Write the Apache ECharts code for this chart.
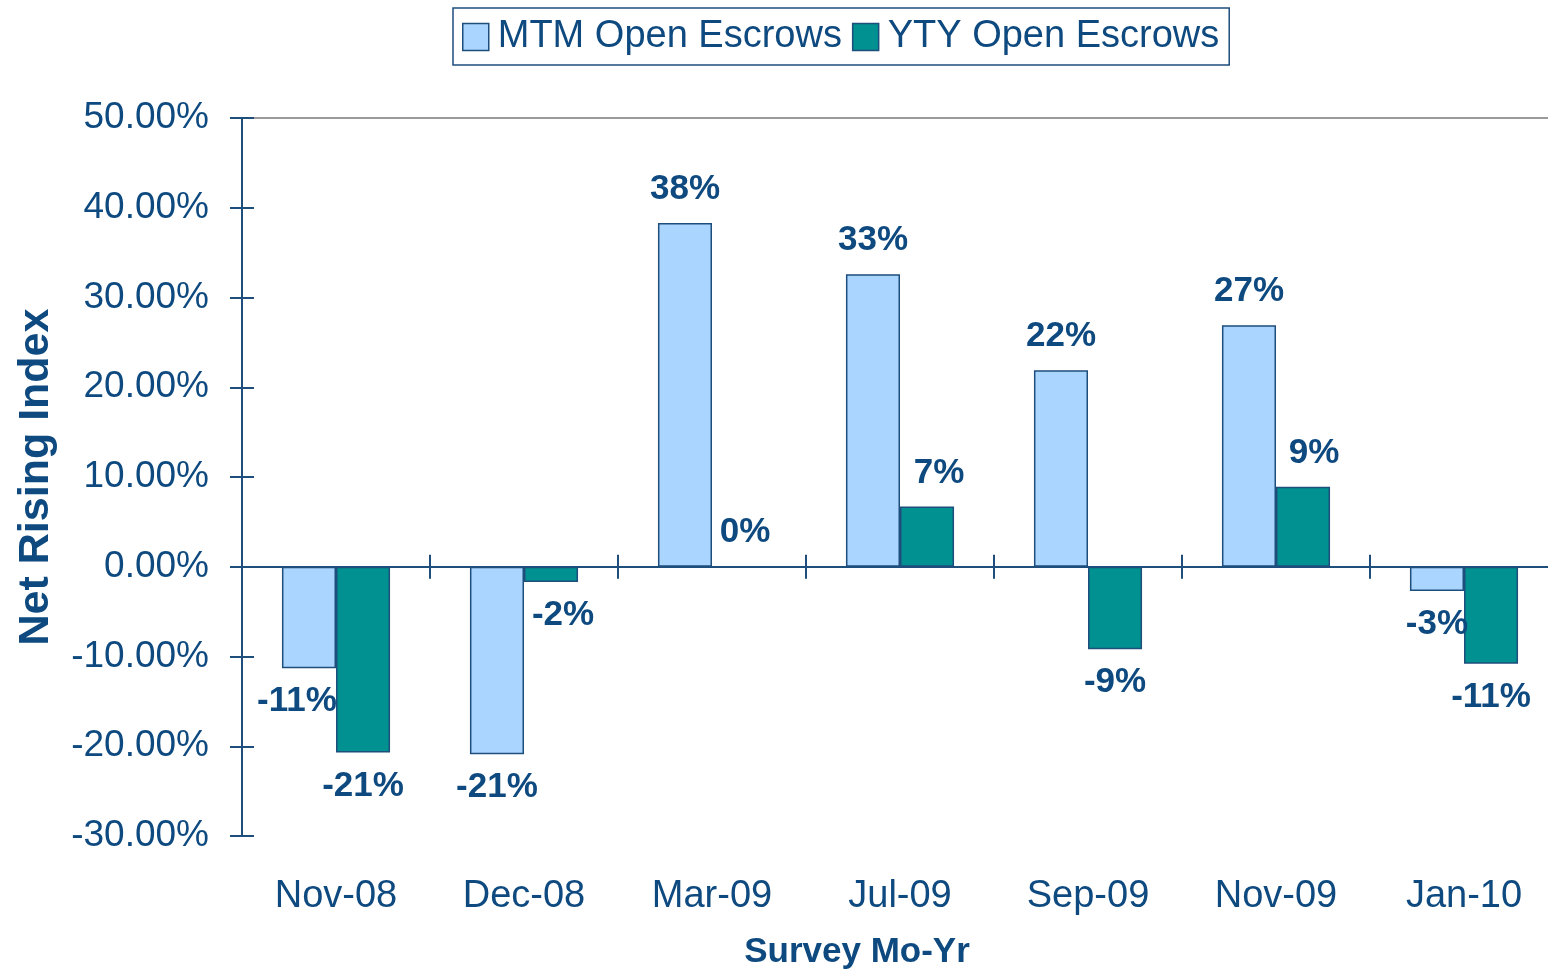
<!DOCTYPE html>
<html>
<head>
<meta charset="utf-8">
<script src="https://cdn.jsdelivr.net/npm/echarts@6/dist/echarts.min.js"></script>
<style>
html,body{margin:0;padding:0;background:#fff;overflow:hidden;width:1548px;height:975px;}
#chart{width:1558px;height:975px;}
</style>
</head>
<body>
<div id="chart"></div>
<script>
const categories = ['Nov-08', 'Dec-08', 'Mar-09', 'Jul-09', 'Sep-09', 'Nov-09', 'Jan-10'];
const mtmValues = [-11.3, -20.9, 38.3, 32.6, 21.9, 26.9, -2.7];
const ytyValues = [-20.7, -1.7, 0, 6.7, -9.2, 8.9, -10.8];
const yTicks = { min: -30, max: 50, interval: 10 };
const seriesNames = ['MTM Open Escrows', 'YTY Open Escrows'];

const TEXT = '#0E4A7F';
const AXIS = '#1E4E7C';
const FONT = 'Liberation Sans, Arial, sans-serif';

// manual label nudges (Excel hand-placed labels), by series then category index
const labelNudge = [
  {0: -12},
  {1: 12, 2: 6, 3: 12, 5: 11}
];

function buildData(values, si) {
  return values.map((v, i) => ({
    value: v,
    label: {
      position: v >= 0 ? 'top' : 'bottom',
      offset: [labelNudge[si][i] || 0, 0]
    }
  }));
}

const labelStyle = {
  show: true,
  distance: 16,
  color: TEXT,
  fontFamily: FONT,
  fontWeight: 'bold',
  fontSize: 35,
  formatter: p => Math.round(p.value) + '%'
};

const chart = echarts.init(document.getElementById('chart'));
chart.setOption({
  animation: false,
  backgroundColor: '#ffffff',
  textStyle: { fontFamily: FONT },
  legend: {
    top: 8,
    left: 453,
    padding: [10, 10, 9, 9],
    borderColor: AXIS,
    borderWidth: 1.5,
    icon: 'rect',
    itemWidth: 26,
    itemHeight: 27,
    itemGap: 10,
    itemStyle: { borderColor: AXIS, borderWidth: 1.5 },
    textStyle: { color: TEXT, fontSize: 38, fontFamily: FONT, padding: [0, 0, 0, 4] },
    data: seriesNames
  },
  grid: { left: 242, right: 0, top: 118, height: 720, containLabel: false },
  xAxis: [
    {
      type: 'category', data: categories, position: 'bottom',
      axisLine: { show: false, onZero: false },
      axisTick: { show: false },
      axisLabel: { color: TEXT, fontSize: 38, fontFamily: FONT, margin: 42 },
      name: 'Survey Mo-Yr', nameLocation: 'middle', nameGap: 99,
      nameTextStyle: { color: TEXT, fontSize: 35, fontWeight: 'bold', fontFamily: FONT, padding: [0, 86, 0, 0] }
    },
    {
      type: 'category', data: categories, position: 'bottom',
      axisLine: { show: true, onZero: true, lineStyle: { color: AXIS, width: 2 } },
      axisTick: { show: true, length: 12, inside: false, lineStyle: { color: AXIS, width: 2 } },
      axisLabel: { show: false }
    },
    {
      type: 'category', data: categories, position: 'bottom',
      axisLine: { show: true, onZero: true, lineStyle: { color: AXIS, width: 2 } },
      axisTick: { show: true, length: 12, inside: true, lineStyle: { color: AXIS, width: 2 } },
      axisLabel: { show: false }
    },
    {
      type: 'category', data: categories, position: 'top',
      axisLine: { show: true, onZero: false, lineStyle: { color: '#9a9a9a', width: 2 } },
      axisTick: { show: false },
      axisLabel: { show: false }
    }
  ],
  yAxis: [
    {
      type: 'value', min: yTicks.min, max: yTicks.max, interval: yTicks.interval, position: 'left',
      axisLine: { show: true, lineStyle: { color: AXIS, width: 2 } },
      axisTick: { show: true, length: 12, inside: false, lineStyle: { color: AXIS, width: 2 } },
      splitLine: { show: false },
      axisLabel: { color: TEXT, fontSize: 37, fontFamily: FONT, margin: 33, formatter: v => v.toFixed(2) + '%' },
      name: 'Net Rising Index', nameLocation: 'middle', nameGap: 184, nameRotate: 90,
      nameTextStyle: { color: TEXT, fontSize: 43, fontWeight: 'bold', fontFamily: FONT }
    },
    {
      type: 'value', min: yTicks.min, max: yTicks.max, interval: yTicks.interval, position: 'left',
      axisLine: { show: false },
      axisTick: { show: true, length: 12, inside: true, lineStyle: { color: AXIS, width: 2 } },
      splitLine: { show: false },
      axisLabel: { show: false }
    }
  ],
  series: [
    {
      name: seriesNames[0], type: 'bar', xAxisIndex: 0, yAxisIndex: 0,
      barGap: 0, barCategoryGap: '42.5%',
      itemStyle: { color: '#AAD5FF', borderColor: AXIS, borderWidth: 1.5 },
      label: labelStyle,
      data: buildData(mtmValues, 0),
      z: 2
    },
    {
      name: seriesNames[1], type: 'bar', xAxisIndex: 0, yAxisIndex: 0,
      barGap: 0, barCategoryGap: '42.5%',
      itemStyle: { color: '#009190', borderColor: AXIS, borderWidth: 1.5 },
      label: labelStyle,
      data: buildData(ytyValues, 1),
      z: 2
    }
  ]
});
</script>
</body>
</html>
